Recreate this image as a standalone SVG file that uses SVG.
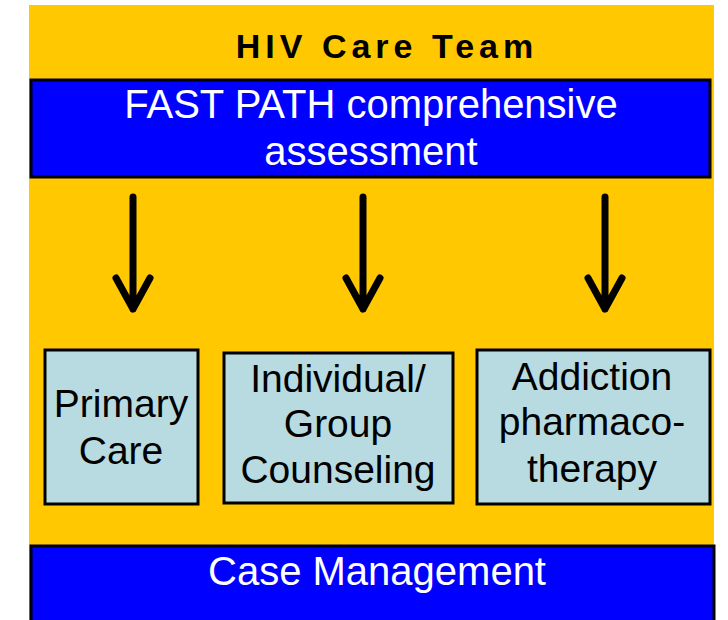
<svg xmlns="http://www.w3.org/2000/svg" width="728" height="620" viewBox="0 0 728 620">
<style>
.t{font-family:"Liberation Sans",Arial,sans-serif;text-anchor:middle}
.w{fill:#fff;font-size:40px}
.b{fill:#000;font-size:39px}
.box{fill:#b7dbe0;stroke:#000;stroke-width:3}
.bar{fill:#0000ff;stroke:#000;stroke-width:3}
.arr{fill:none;stroke:#000;stroke-width:7;stroke-linecap:round;stroke-linejoin:round}
</style>
<rect x="0" y="0" width="728" height="620" fill="#fff"/>
<rect id="background" x="29" y="5" width="685" height="615" fill="#ffc800"/>
<g id="title"><text class="t" x="387" y="58" style="font-size:34px;font-weight:bold;letter-spacing:5px">HIV Care Team</text></g>
<g id="fastpath">
<rect class="bar" x="31" y="80" width="679" height="97"/>
<text class="t w" x="371" y="118">FAST PATH comprehensive</text>
<text class="t w" x="371" y="165">assessment</text>
</g>
<g id="connectors">
<path class="arr" d="M133 197V309M116 278L133 309L150 278"/>
<path class="arr" d="M363 197V309M346 278L363 309L380 278"/>
<path class="arr" d="M605 197V309M588 278L605 309L622 278"/>
</g>
<g id="primary">
<rect class="box" x="45" y="350" width="153" height="154"/>
<text class="t b" x="121" y="417">Primary</text>
<text class="t b" x="121" y="464">Care</text>
</g>
<g id="counseling">
<rect class="box" x="224" y="353" width="229" height="150"/>
<text class="t b" x="338" y="392">Individual/</text>
<text class="t b" x="338" y="437">Group</text>
<text class="t b" x="338" y="483">Counseling</text>
</g>
<g id="addiction">
<rect class="box" x="477" y="350" width="233" height="154"/>
<text class="t b" x="592" y="390">Addiction</text>
<text class="t b" x="592" y="435">pharmaco-</text>
<text class="t b" x="592" y="482">therapy</text>
</g>
<g id="casemanagement">
<rect class="bar" x="31" y="546" width="683" height="80"/>
<text class="t w" x="377" y="585">Case Management</text>
</g>
</svg>
